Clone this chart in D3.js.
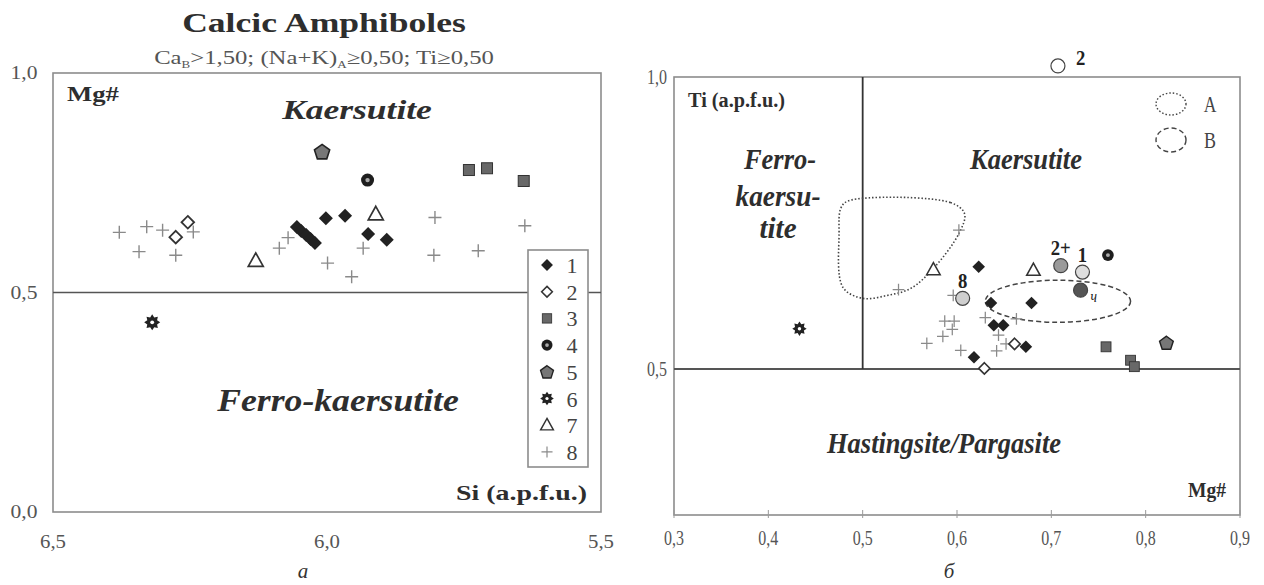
<!DOCTYPE html>
<html><head><meta charset="utf-8">
<script src="https://cdn.jsdelivr.net/npm/d3@7"></script>
<style>body{margin:0;background:#fff}svg{display:block}text{font-family:"Liberation Serif","DejaVu Serif",serif}</style>
</head><body>
<svg id="c" width="1264" height="585"></svg>
<script>
// ---------- DATA ----------
// Left panel: [Si (a.p.f.u.), Mg#]
const leftS1 = [[6.055,0.649],[6.047,0.640],[6.038,0.631],[6.030,0.622],[6.022,0.613],[6.002,0.669],[5.967,0.675],[5.925,0.633],[5.891,0.620]];
const leftS2 = [[6.254,0.660],[6.276,0.626]];
const leftS3 = [[5.741,0.779],[5.708,0.783],[5.641,0.754]];
const leftS4 = [[5.926,0.756]];
const leftS5 = [[6.009,0.821]];
const leftS6 = [[6.319,0.432]];
const leftS7 = [[6.130,0.572],[5.911,0.678]];
const leftS8 = [[6.379,0.637],[6.329,0.650],[6.300,0.642],[6.244,0.638],[6.343,0.593],[6.276,0.585],[6.087,0.601],[6.071,0.625],[5.934,0.601],[5.999,0.567],[5.955,0.536],[5.803,0.671],[5.805,0.585],[5.724,0.595],[5.639,0.652]];
const leftTicksX = [6.5, 6.0, 5.5];
const leftTicksY = [0.0, 0.5, 1.0];
const legendLabels = ["1","2","3","4","5","6","7","8"];

// Right panel: [Mg#, Ti (a.p.f.u.)]
const rightS1 = [[0.623,0.675],[0.636,0.613],[0.679,0.613],[0.639,0.575],[0.649,0.575],[0.673,0.538],[0.618,0.520]];
const rightS2 = [[0.661,0.543],[0.629,0.501]];
const rightS3 = [[0.758,0.538],[0.784,0.515],[0.788,0.504]];
const rightS4 = [[0.760,0.695]];
const rightS5 = [[0.822,0.545]];
const rightS6 = [[0.433,0.569]];
const rightS7 = [[0.575,0.670],[0.681,0.669]];
const rightS8 = [[0.602,0.738],[0.538,0.636],[0.596,0.626],[0.663,0.586],[0.630,0.588],[0.644,0.558],[0.587,0.582],[0.597,0.582],[0.595,0.568],[0.585,0.556],[0.568,0.544],[0.604,0.532],[0.642,0.531],[0.652,0.543]];
const rightCircleLabels = ["2","2+","1","ч","8"];
const rightCircleX = [0.707, 0.710, 0.733, 0.731, 0.606];
const rightCircleY = [1.019, 0.677, 0.666, 0.635, 0.621];
const rightCircleFill = ["#ffffff","#9a9a9a","#dedede","#555555","#cfcfcf"];
const fieldA = [[0.485,0.788],[0.593,0.785],[0.608,0.766],[0.602,0.732],[0.576,0.674],[0.551,0.638],[0.526,0.626],[0.500,0.621],[0.479,0.640],[0.475,0.732],[0.477,0.776]];
const fieldB = {cx:0.707, cy:0.616, rx:0.077, ry:0.036};
const rightTicksX = [0.3,0.4,0.5,0.6,0.7,0.8,0.9];
const rightTicksY = [0.5, 1.0];

// ---------- DRAW ----------
const svg = d3.select("#c");
const fmt = d => d3.format(".1f")(d).replace(".", ",");

// text helper: o.w = target rendered width (horizontal scale fitted), o.sx = fixed horizontal scale
function txt(g, x, y, s, o = {}) {
  const t = g.append("text")
    .attr("text-anchor", o.anchor || "middle")
    .attr("font-size", o.size || 16)
    .attr("font-weight", o.bold ? "bold" : "normal")
    .attr("font-style", o.italic ? "italic" : "normal")
    .attr("fill", o.fill || "#333");
  if (o.build) o.build(t); else t.text(s);
  let sx = o.sx || 1;
  if (o.w) { const w0 = t.node().getBBox().width; if (w0 > 0) sx = o.w / w0; }
  t.attr("transform", `translate(${x},${y}) scale(${sx},1)`);
  return t;
}

function sym(g, type, x, y, k = 1) {
  const s = g.append("g").attr("transform", `translate(${x},${y}) scale(${k})`);
  if (type === 1) {
    s.append("path").attr("d", "M0,-7L7,0L0,7L-7,0Z").attr("fill", "#222");
  } else if (type === 2) {
    s.append("path").attr("d", "M0,-6.3L6.3,0L0,6.3L-6.3,0Z").attr("fill", "#fff").attr("stroke", "#333").attr("stroke-width", 1.8);
  } else if (type === 3) {
    s.append("rect").attr("x", -5.5).attr("y", -5.5).attr("width", 11).attr("height", 11).attr("fill", "#686868").attr("stroke", "#333").attr("stroke-width", 1);
  } else if (type === 4) {
    s.append("circle").attr("r", 6.5).attr("fill", "#1e1e1e");
    s.append("circle").attr("r", 2.2).attr("fill", "#aaa");
  } else if (type === 5) {
    const pts = d3.range(5).map(i => { const a = -Math.PI / 2 + i * 2 * Math.PI / 5; return [8 * Math.cos(a), 8 * Math.sin(a) + 0.8]; });
    s.append("path").attr("d", "M" + pts.join("L") + "Z").attr("fill", "#777").attr("stroke", "#222").attr("stroke-width", 1.6);
  } else if (type === 6) {
    const pts = d3.range(16).map(i => { const a = -Math.PI / 2 + i * Math.PI / 8; const r = i % 2 ? 5.3 : 8; return [r * Math.cos(a), r * Math.sin(a)]; });
    s.append("path").attr("d", "M" + pts.join("L") + "Z").attr("fill", "#222");
    s.append("circle").attr("r", 1.9).attr("fill", "#fff");
  } else if (type === 7) {
    s.append("path").attr("d", "M0,-8L7.5,5.5L-7.5,5.5Z").attr("fill", "#fff").attr("stroke", "#333").attr("stroke-width", 1.7);
  } else if (type === 8) {
    s.append("path").attr("d", "M-6.5,0H6.5M0,-6.5V6.5").attr("stroke", "#8a8a8a").attr("stroke-width", 1.4).attr("fill", "none");
  }
}

// ===== LEFT PANEL =====
const L = {x0: 53, x1: 601, y0: 512, y1: 73};
const xL = d3.scaleLinear().domain([6.5, 5.5]).range([L.x0, L.x1]);
const yL = d3.scaleLinear().domain([0, 1]).range([L.y0, L.y1]);
const gL = svg.append("g");

txt(gL, 324, 32, "Calcic Amphiboles", {size: 28, bold: true, fill: "#2e2e2e", w: 284});
txt(gL, 324, 64, null, {size: 19, fill: "#555", w: 340, build: t => {
  t.append("tspan").text("Ca");
  t.append("tspan").attr("font-size", 10).attr("dy", 4).text("B");
  t.append("tspan").attr("dy", -4).text(">1,50; (Na+K)");
  t.append("tspan").attr("font-size", 10).attr("dy", 4).text("A");
  t.append("tspan").attr("dy", -4).text("≥0,50; Ti≥0,50");
}});

gL.append("rect").attr("x", L.x0).attr("y", L.y1).attr("width", L.x1 - L.x0).attr("height", L.y0 - L.y1)
  .attr("fill", "none").attr("stroke", "#8c8c8c").attr("stroke-width", 1.6);
gL.append("line").attr("x1", xL(6.5)).attr("x2", xL(5.5)).attr("y1", yL(0.5)).attr("y2", yL(0.5))
  .attr("stroke", "#555").attr("stroke-width", 1.6);

leftTicksY.forEach(v => txt(gL, 24, yL(v) + 6, fmt(v), {size: 19, fill: "#555", w: 27}));
leftTicksX.forEach(v => txt(gL, xL(v), 548, fmt(v), {size: 19, fill: "#555", w: 26}));

txt(gL, 67, 101, "Mg#", {size: 22, bold: true, anchor: "start", fill: "#2e2e2e", w: 52});
txt(gL, 357, 119, "Kaersutite", {size: 28, bold: true, italic: true, fill: "#2e2e2e", w: 151});
txt(gL, 338, 411, "Ferro-kaersutite", {size: 31, bold: true, italic: true, fill: "#2e2e2e", w: 243});
txt(gL, 587, 500, "Si (a.p.f.u.)", {size: 22, bold: true, anchor: "end", fill: "#2e2e2e", w: 131});
txt(gL, 303, 578, "a", {size: 21, italic: true, fill: "#333"});

const leftSeries = [leftS8, leftS1, leftS2, leftS3, leftS4, leftS5, leftS6, leftS7];
const leftTypes = [8, 1, 2, 3, 4, 5, 6, 7];
leftSeries.forEach((arr, i) => arr.forEach(d => sym(gL, leftTypes[i], xL(d[0]), yL(d[1]))));

// legend
gL.append("rect").attr("x", 528).attr("y", 250).attr("width", 60).attr("height", 217)
  .attr("fill", "#fff").attr("stroke", "#8c8c8c").attr("stroke-width", 1.6);
legendLabels.forEach((lab, i) => {
  const yy = 265 + i * 26.7;
  sym(gL, i + 1, 547, yy, 0.85);
  txt(gL, 572, yy + 8, lab, {size: 22, fill: "#444"});
});

// ===== RIGHT PANEL =====
const R = {x0: 674, x1: 1240, y0: 515, y1: 77};
const xR = d3.scaleLinear().domain([0.3, 0.9]).range([R.x0, R.x1]);
const yR = d3.scaleLinear().domain([0.25, 1.0]).range([R.y0, R.y1]);
const gR = svg.append("g");

gR.append("rect").attr("x", R.x0).attr("y", R.y1).attr("width", R.x1 - R.x0).attr("height", R.y0 - R.y1)
  .attr("fill", "none").attr("stroke", "#8c8c8c").attr("stroke-width", 1.6);
gR.append("line").attr("x1", xR(0.3)).attr("x2", xR(0.9)).attr("y1", yR(0.5)).attr("y2", yR(0.5))
  .attr("stroke", "#555").attr("stroke-width", 2);
gR.append("line").attr("x1", xR(0.5)).attr("x2", xR(0.5)).attr("y1", yR(0.5)).attr("y2", yR(1.0))
  .attr("stroke", "#333").attr("stroke-width", 1.8);

gR.selectAll(".tk").data(rightTicksX).enter().append("line")
  .attr("x1", d => xR(d)).attr("x2", d => xR(d)).attr("y1", R.y0 - 5).attr("y2", R.y0 + 3)
  .attr("stroke", "#999").attr("stroke-width", 1);
rightTicksX.forEach(v => txt(gR, xR(v), 545, fmt(v), {size: 20, fill: "#555", w: 20}));
rightTicksY.forEach(v => txt(gR, 657, yR(v) + 7, fmt(v), {size: 20, fill: "#555", w: 20}));

txt(gR, 688, 107, "Ti (a.p.f.u.)", {size: 21, bold: true, anchor: "start", fill: "#2e2e2e", w: 97});
txt(gR, 780, 169, "Ferro-", {size: 30, bold: true, italic: true, fill: "#2e2e2e", w: 73});
txt(gR, 778, 206, "kaersu-", {size: 30, bold: true, italic: true, fill: "#2e2e2e", w: 85});
txt(gR, 778, 238, "tite", {size: 30, bold: true, italic: true, fill: "#2e2e2e", w: 37});
txt(gR, 1026, 169, "Kaersutite", {size: 30, bold: true, italic: true, fill: "#2e2e2e", w: 113});
txt(gR, 944, 453, "Hastingsite/Pargasite", {size: 30, bold: true, italic: true, fill: "#2e2e2e", w: 235});
txt(gR, 1226, 497, "Mg#", {size: 22, bold: true, anchor: "end", fill: "#2e2e2e", w: 38});
txt(gR, 949, 578, "б", {size: 21, italic: true, fill: "#333"});

// fields
gR.append("path").datum(fieldA)
  .attr("d", d3.line().x(d => xR(d[0])).y(d => yR(d[1])).curve(d3.curveCatmullRomClosed.alpha(0.5)))
  .attr("fill", "none").attr("stroke", "#444").attr("stroke-width", 1.6).attr("stroke-dasharray", "1.5,2");
gR.append("ellipse").attr("cx", xR(fieldB.cx)).attr("cy", yR(fieldB.cy))
  .attr("rx", xR(fieldB.cx + fieldB.rx) - xR(fieldB.cx)).attr("ry", yR(fieldB.cy) - yR(fieldB.cy + fieldB.ry))
  .attr("fill", "none").attr("stroke", "#444").attr("stroke-width", 1.5).attr("stroke-dasharray", "5,3");

// field legend
gR.append("ellipse").attr("cx", 1171).attr("cy", 104).attr("rx", 15).attr("ry", 11)
  .attr("fill", "none").attr("stroke", "#444").attr("stroke-width", 1.4).attr("stroke-dasharray", "1.5,2");
txt(gR, 1210, 112, "A", {size: 23, fill: "#444", w: 13});
gR.append("ellipse").attr("cx", 1171).attr("cy", 140).attr("rx", 15).attr("ry", 12)
  .attr("fill", "none").attr("stroke", "#444").attr("stroke-width", 1.4).attr("stroke-dasharray", "5,3");
txt(gR, 1210, 148, "B", {size: 23, fill: "#444", w: 12});

const rightSeries = [rightS8, rightS1, rightS2, rightS3, rightS4, rightS5, rightS6, rightS7];
rightSeries.forEach((arr, i) => arr.forEach(d => sym(gR, leftTypes[i], xR(d[0]), yR(d[1]), 0.9)));

// labelled circles
const labOff = [[18, -1, "start"], [0, -11, "middle"], [0, -10, "middle"], [10, 12, "start"], [0, -10, "middle"]];
rightCircleLabels.forEach((lab, i) => {
  const cx = xR(rightCircleX[i]), cy = yR(rightCircleY[i]);
  gR.append("circle").attr("cx", cx).attr("cy", cy).attr("r", 7)
    .attr("fill", rightCircleFill[i]).attr("stroke", "#444").attr("stroke-width", 1.2);
  const o = labOff[i];
  txt(gR, cx + o[0], cy + o[1], lab, {size: lab === "ч" ? 16 : 22, bold: lab !== "ч", italic: lab === "ч", anchor: o[2], fill: "#222", sx: 0.85});
});
</script>
</body></html>
